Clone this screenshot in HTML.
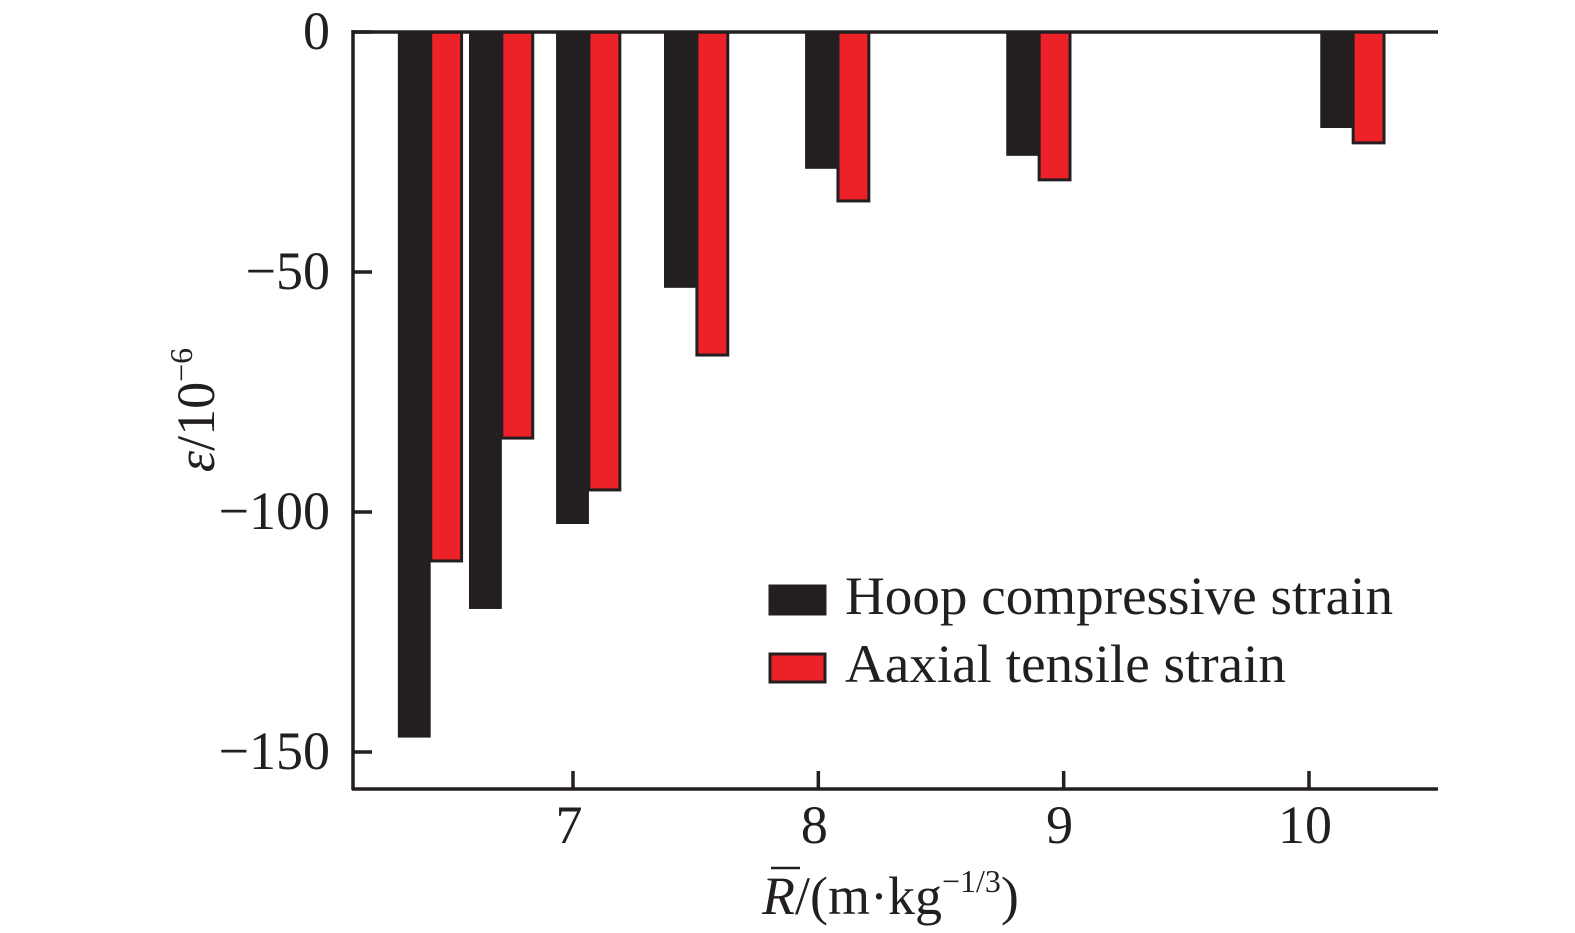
<!DOCTYPE html>
<html><head><meta charset="utf-8"><style>
html,body{margin:0;padding:0;background:#fff;}
svg{display:block;font-family:"Liberation Serif",serif;}
</style></head><body>
<svg id="chart" width="1575" height="933" viewBox="0 0 1575 933">
<g id="bars"></g>
<g id="axes"></g>
<text x="0" y="0" transform="translate(214,410) rotate(-90)" text-anchor="middle" font-size="54" fill="#231f20"><tspan font-style="italic">ε</tspan>/10<tspan font-size="32" dy="-22">−6</tspan></text>
<text x="762" y="914" font-size="54" fill="#231f20"><tspan font-style="italic">R</tspan>/(m·kg<tspan font-size="32" dy="-22">−1/3</tspan><tspan dy="22">)</tspan></text>
<line x1="771" y1="868" x2="800" y2="868" stroke="#231f20" stroke-width="2.5"/>
<g>
<g>
<rect x="770" y="586" width="55" height="28" fill="#231f20" stroke="#231f20" stroke-width="3"/>
<text x="845" y="614" font-size="54" fill="#231f20" textLength="548" lengthAdjust="spacingAndGlyphs">Hoop compressive strain</text></g>
<g>
<rect x="770" y="654" width="55" height="28" fill="#ed2229" stroke="#231f20" stroke-width="3"/>
<text x="845" y="682" font-size="54" fill="#231f20" textLength="441" lengthAdjust="spacingAndGlyphs">Aaxial tensile strain</text></g>
</g>
</svg>
<script>
const categories=[6.42,6.71,7.065,7.505,8.08,8.90,10.18];
const hoopValues=[-147,-120.2,-102.5,-53.3,-28.5,-25.8,-20];
const axialValues=[-110.2,-84.6,-95.4,-67.3,-35.2,-30.8,-23.1];
const yTicks=[0,-50,-100,-150];
const yTickLabels=["0","−50","−100","−150"];
const xTicks=[7,8,9,10];
const xTickLabels=["7","8","9","10"];
const barWidthData=0.134;

const NS="http://www.w3.org/2000/svg";
function xs(v){return 573+(v-7)*245.33;}
function ys(v){return 32+(-v)*4.8;}
function mk(tag,attrs,parent){const e=document.createElementNS(NS,tag);for(const k in attrs)e.setAttribute(k,attrs[k]);parent.appendChild(e);return e;}
const bars=document.getElementById('bars'),axes=document.getElementById('axes');
const bw=barWidthData*245.33;
categories.forEach((c,i)=>{
  const cx=xs(c);
  const b=mk('rect',{x:cx-bw,y:ys(0),width:bw,height:ys(hoopValues[i])-ys(0),fill:'#231f20'},bars);
  
  
  const r=mk('rect',{x:cx,y:ys(0),width:bw-2,height:ys(axialValues[i])-ys(0),fill:'#ed2229',stroke:'#231f20','stroke-width':3},bars);
  
  
});
const st={stroke:'#231f20','stroke-width':3.5};
let l=mk('line',Object.assign({x1:352,y1:32,x2:1438,y2:32},st),axes);


l=mk('line',Object.assign({x1:353,y1:30,x2:353,y2:790},st),axes);


l=mk('line',Object.assign({x1:352,y1:789,x2:1438,y2:789},st),axes);


yTicks.forEach((v,i)=>{
  const t=mk('line',Object.assign({x1:353,y1:ys(v),x2:372,y2:ys(v)},st),axes);
  
  
  const tx=mk('text',{x:330,y:ys(v)+17,'text-anchor':'end','font-size':54,fill:'#231f20'},axes);
  tx.textContent=yTickLabels[i];
  
  
});
xTicks.forEach((v,i)=>{
  const t=mk('line',Object.assign({x1:xs(v),y1:789,x2:xs(v),y2:771},st),axes);
  
  
  const tx=mk('text',{x:xs(v)-4,y:843,'text-anchor':'middle','font-size':54,fill:'#231f20'},axes);
  tx.textContent=xTickLabels[i];
  
  
});
</script>
</body></html>
